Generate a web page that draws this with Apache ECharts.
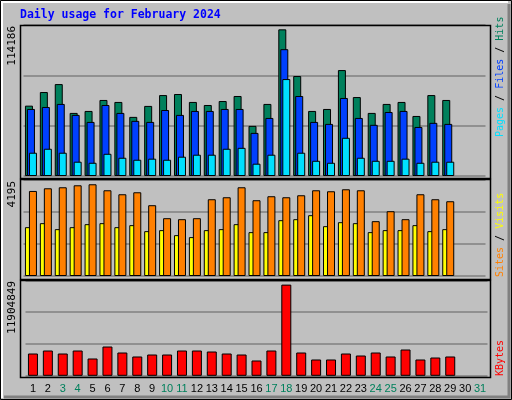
<!DOCTYPE html>
<html><head><meta charset="utf-8">
<script src="https://cdn.jsdelivr.net/npm/echarts@6/dist/echarts.min.js"></script>
<style>html,body{margin:0;padding:0;background:#C0C0C0}#c{width:512px;height:400px}</style>
</head><body><div id="c"></div>
<script>
const days = ['1','2','3','4','5','6','7','8','9','10','11','12','13','14','15','16','17','18','19','20','21','22','23','24','25','26','27','28','29','30','31'];
const weekend = ['3','4','10','11','17','18','24','25','31'];
const hits  = [53200,63500,69500,47700,49200,57500,56000,44700,53000,61200,62000,56000,53700,56700,60500,37900,54500,110900,75600,49200,50700,80100,59700,47700,54500,56000,45400,61200,57500,null,null];
const files = [50700,52200,54500,46200,40900,53700,47700,41700,40900,49900,46200,49200,49200,50700,50700,32600,43900,95900,60500,40900,39400,59000,43900,38700,48400,49200,37100,40200,39400,null,null];
const pages = [17600,20600,17600,10800,10000,16800,13800,12300,13100,12300,14600,16100,16100,20600,21300,9300,16100,73300,17600,11500,10000,28900,13800,11500,11500,13100,10000,10800,10800,null,null];
const sites = [2134,2309,2047,2134,2265,2309,2134,2222,1960,2004,1786,1699,2004,2047,2265,1917,1917,2439,2483,2657,2178,2352,2309,1917,2004,2004,2222,1960,2047,null,null];
const visits = [3717,3833,3877,3964,4008,3746,3572,3659,3093,2526,2483,2526,3354,3441,3877,3311,3485,3441,3528,3746,3703,3790,3746,2396,2831,2483,3572,3354,3267,null,null];
const kbytes = [2779000,3152000,2779000,3152000,2157000,3650000,2904000,2406000,2655000,2655000,3152000,3152000,3028000,2779000,2655000,1908000,3152000,11366000,2904000,2033000,2033000,2779000,2530000,2904000,2406000,3277000,2033000,2281000,2406000,null,null];
const maxLabels = [114186, 4195, 11904849];
const title = 'Daily usage for February 2024';

const C = {hits:'#00805C', files:'#0040FF', pages:'#00E0FF', sites:'#FF8000', visits:'#FFFF00', kb:'#FF0000'};
const grids = [
  {left:23.5, right:26.5, top:25, height:151},
  {left:23.5, right:26.5, top:180, height:96},
  {left:25.5, right:24.5, top:280.3, height:95.5}
];
const maxes = maxLabels;
const xAxes = grids.map((g,i)=>({type:'category', gridIndex:i, data:days, boundaryGap:true,
  axisLine:{show:false}, axisTick:{show:false},
  axisLabel:{show:i===2, interval:0, margin:8, fontFamily:'Liberation Sans', fontSize:11,
    color:'#000', formatter:v=>weekend.includes(v)?'{w|'+v+'}':v, rich:{w:{color:'#00805C',fontFamily:'Liberation Sans',fontSize:11}}}}));
const yAxes = grids.map((g,i)=>({type:'value', gridIndex:i, min:0, max:maxes[i], interval:maxes[i]/3,
  axisLabel:{show:false}, axisLine:{show:false}, axisTick:{show:false},
  splitLine:{show:true, lineStyle:{color:'#808080', width:1.5}}}));
const bs = {borderColor:'#000', borderWidth:1};
const series = [
  {type:'bar', xAxisIndex:0, yAxisIndex:0, data:hits, barWidth:8, barGap:'-75%', itemStyle:{color:C.hits,...bs}},
  {type:'bar', xAxisIndex:0, yAxisIndex:0, data:files, barWidth:8, barGap:'-75%', itemStyle:{color:C.files,...bs}},
  {type:'bar', xAxisIndex:0, yAxisIndex:0, data:pages, barWidth:8, barGap:'-75%', itemStyle:{color:C.pages,...bs}},
  {type:'bar', xAxisIndex:1, yAxisIndex:1, data:sites, barWidth:8, barGap:'-50%', itemStyle:{color:C.visits,...bs}},
  {type:'bar', xAxisIndex:1, yAxisIndex:1, data:visits, barWidth:8, barGap:'-50%', itemStyle:{color:C.sites,...bs}},
  {type:'bar', xAxisIndex:2, yAxisIndex:2, data:kbytes, barWidth:10, itemStyle:{color:C.kb,...bs}}
].map(s=>({...s, silent:true, animation:false}));

const panels = [[20,25,470,153],[20,179,470,100],[20,280,470,97]];
const graphic = [
  {type:'rect', shape:{x:0.5,y:0.5,width:511,height:399}, style:{fill:'none',stroke:'#000',lineWidth:1}, z:100},
  {type:'polyline', shape:{points:[[2,398],[2,2],[508,2]]}, style:{fill:'none',stroke:'#fff',lineWidth:2}, z:100},
  {type:'polyline', shape:{points:[[4,397],[509,397],[509,4]]}, style:{fill:'none',stroke:'#808080',lineWidth:3}, z:100},
  {type:'text', left:20, top:9, style:{text:title, fill:'#0000FF', font:'bold 11.5px "DejaVu Sans Mono"'}, z:100}
];
panels.forEach(p=>graphic.push({type:'rect', shape:{x:p[0]+0.5,y:p[1]+0.5,width:p[2],height:p[3]},
  style:{fill:'none',stroke:'#000',lineWidth:1.5}, z:99}));
const labelTops=[26,181,281];
maxLabels.forEach((v,i)=>graphic.push({type:'text', x:7, y:labelTops[i], rotation:Math.PI/2,
  style:{text:String(v), fill:'#000', font:'11px "DejaVu Sans Mono"', align:'right', verticalAlign:'top'}, z:100}));
const rt=(x,y,parts)=>graphic.push({type:'text', x:x, y:y, rotation:Math.PI/2,
  style:{rich:Object.fromEntries(parts.map((p,k)=>['s'+k,{fill:p[1],font:'10px "DejaVu Sans Mono"'}])),
    text:parts.map((p,k)=>'{s'+k+'|'+p[0]+'}').join(''), align:'left', verticalAlign:'top'}, z:100});
rt(495,137,[['Pages',C.pages],[' / ','#000'],['Files',C.files],[' / ','#000'],['Hits',C.hits]]);
rt(495,277,[['Sites',C.sites],[' / ','#000'],['Visits',C.visits]]);
rt(495,376,[['KBytes',C.kb]]);

const chart = echarts.init(document.getElementById('c'));
chart.setOption({animation:false, backgroundColor:'#C0C0C0', grid:grids, xAxis:xAxes, yAxis:yAxes, series, graphic});
</script></body></html>
